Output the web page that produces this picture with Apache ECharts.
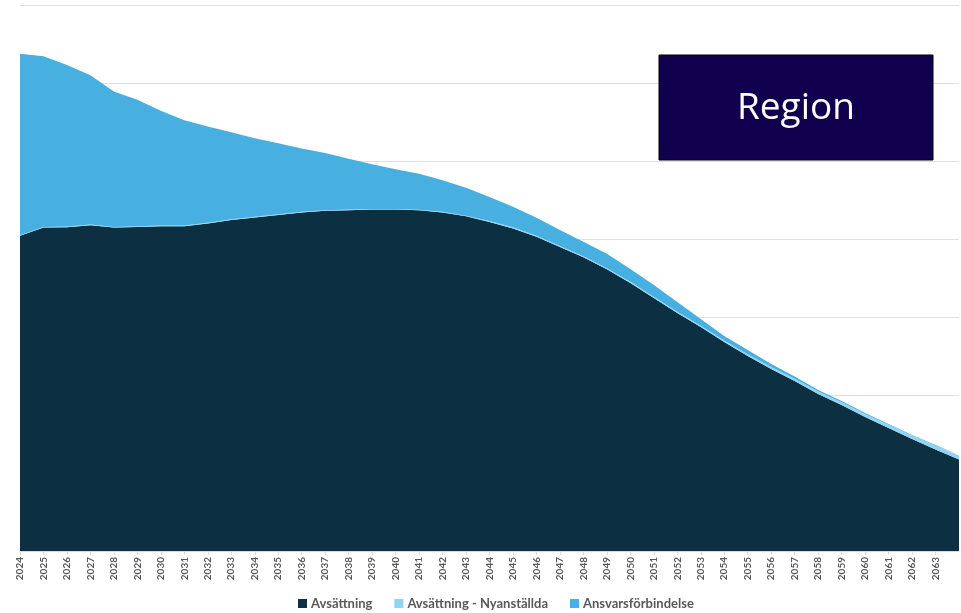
<!DOCTYPE html>
<html>
<head>
<meta charset="utf-8">
<script src="https://cdn.jsdelivr.net/npm/echarts@6/dist/echarts.min.js"></script>
<style>html,body{margin:0;padding:0;background:#fff}#c{width:961px;height:613px}</style>
</head>
<body>
<div id="c"></div>
<script>
const years = ['2024','2025','2026','2027','2028','2029','2030','2031','2032','2033','2034','2035','2036','2037','2038','2039','2040','2041','2042','2043','2044','2045','2046','2047','2048','2049','2050','2051','2052','2053','2054','2055','2056','2057','2058','2059','2060','2061','2062','2063','2064'];
const avsattning = [404.4,415.0,415.5,418.1,415.0,415.9,416.8,416.8,420.4,424.9,427.9,431.3,434.3,436.5,437.4,438.1,438.1,437.1,434.5,429.4,422.3,414.0,403.1,390.2,376.8,361.4,344.0,324.8,305.5,287.5,268.3,250.3,233.6,218.2,201.5,187.4,172.0,157.9,143.8,130.3,117.5];
const nyanstallda = [0.9,0.9,0.9,0.9,0.9,0.9,0.9,0.9,0.9,0.9,0.9,0.9,0.9,0.9,0.9,0.9,0.9,0.9,0.9,0.9,1.3,1.3,1.3,1.3,1.3,1.3,1.5,1.5,1.5,1.5,1.9,2.2,2.6,2.8,3.2,3.6,3.9,4.2,4.5,4.9,5.1];
const ansvarsforbindelse = [232.7,218.9,207.4,191.4,173.7,162.1,147.1,134.9,123.4,111.7,101.0,91.1,81.3,73.2,65.0,57.4,51.0,46.0,40.2,35.7,30.8,26.3,23.1,20.5,18.6,18.6,16.4,15.1,12.6,8.7,5.8,5.5,3.9,3.0,1.9,1.5,1.3,0.9,0.6,0.9,0.6];
const seriesNames = ['Avsättning','Avsättning - Nyanställda','Ansvarsförbindelse'];
const colors = ['#0c2f41','#8fd4f5','#47b0e0'];

const chart = echarts.init(document.getElementById('c'), null, {renderer:'canvas'});
const lastVisible = years.length - 2;
function mk(name, data, color){
  return {name, type:'line', stack:'total', data, symbol:'none', smooth:false,
    lineStyle:{width:0}, areaStyle:{color, opacity:1}, itemStyle:{color}, z:2};
}
chart.setOption({
  animation:false,
  color:colors,
  grid:{left:20, right:2, top:5.5, bottom:62, containLabel:false},
  xAxis:{type:'category', data:years, boundaryGap:false,
    axisLine:{show:true, lineStyle:{color:'#d9d9d9', width:1}},
    axisTick:{show:true, length:4, lineStyle:{color:'#d9d9d9'}, interval:(i)=>i<=lastVisible, alignWithLabel:true},
    axisLabel:{rotate:90, interval:(i)=>i<=lastVisible, margin:6, fontSize:10, fontWeight:'bold', color:'#595959', fontFamily:'Lato'}
  },
  yAxis:{type:'value', min:0, max:700, interval:100,
    axisLabel:{show:false}, axisLine:{show:false}, axisTick:{show:false},
    splitLine:{show:true, lineStyle:{color:'#e0e0e0', width:1}}
  },
  legend:{data:seriesNames, left:298, top:597, padding:0, icon:'rect', itemWidth:9, itemHeight:9, itemGap:22,
    textStyle:{fontSize:13, fontWeight:'bold', color:'#595959', fontFamily:'Lato', padding:[0,0,0,-1]}},
  series:[mk(seriesNames[0], avsattning, colors[0]), mk(seriesNames[1], nyanstallda, colors[1]), mk(seriesNames[2], ansvarsforbindelse, colors[2])],
  graphic:[
    {type:'rect', x:659, y:55, shape:{x:0, y:0, width:274, height:105}, style:{fill:'#10004e', stroke:'#000000', lineWidth:1}, z:10},
    {type:'text', x:796, y:108, style:{text:'Region', fill:'#ffffff', font:'37px "Open Sans"', textAlign:'center', textVerticalAlign:'middle'}, z:11}
  ]
});
</script>
</body>
</html>
